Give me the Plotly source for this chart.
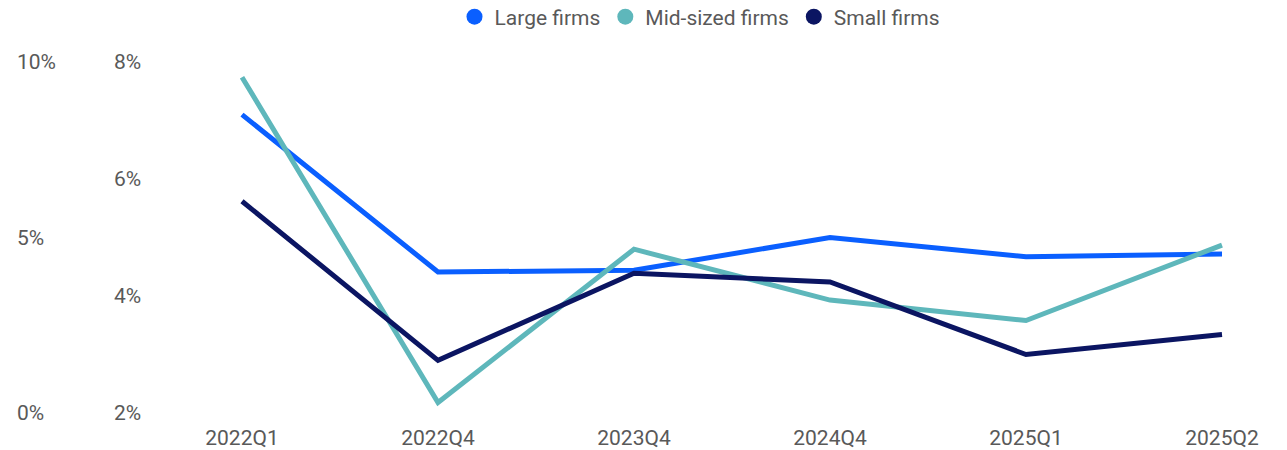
import plotly.graph_objects as go

quarters = ["2022Q1", "2022Q4", "2023Q4", "2024Q4", "2025Q1", "2025Q2"]
large_firms = [7.10, 4.41, 4.44, 5.00, 4.67, 4.72]
mid_firms = [7.74, 2.18, 4.80, 3.93, 3.58, 4.87]
small_firms = [5.62, 2.90, 4.39, 4.24, 3.00, 3.34]

series_names = ["Large firms", "Mid-sized firms", "Small firms"]
series_values = [large_firms, mid_firms, small_firms]
colors = ["#0a5fff", "#5eb7bb", "#0b1562"]

inner_ticks = [2, 4, 6, 8]
outer_ticks = [0, 5, 10]

FONT = "Roboto, Arial, sans-serif"
TXT = "#595959"
FS = 21

fig = go.Figure()
for name, vals, col in zip(series_names, series_values, colors):
    fig.add_trace(go.Scatter(
        x=quarters, y=vals, mode="lines", name=name, showlegend=False,
        line=dict(color=col, width=5), yaxis="y", hoverinfo="x+y+name"))
    fig.add_trace(go.Scatter(
        x=[None], y=[None], mode="markers", name=name, showlegend=True,
        marker=dict(color=col, size=18, symbol="circle"), yaxis="y"))

# dummy trace so the outer axis is drawn
fig.add_trace(go.Scatter(x=[quarters[0]], y=[None], yaxis="y2", showlegend=False,
                         mode="lines", hoverinfo="skip"))

W, H = 1287, 450
TOP_PX, BOT_PX = 62, 413
E = 14                             # extra room so edge labels are not clipped
L, R = 8, 0
T, B = TOP_PX - E, H - (BOT_PX + E)
pw = W - L - R
span = BOT_PX - TOP_PX

# category centres: 242 .. 1222 px
step = (1222 - 242) / 5
x_left = 242 - 0.3 * step
x0 = (x_left - L) / pw
x1 = 1.0
xr_hi = 5 + (L + pw - 1222) / step

in_pad = E * (inner_ticks[-1] - inner_ticks[0]) / span
out_pad = E * (outer_ticks[-1] - outer_ticks[0]) / span

fig.update_layout(
    width=W, height=H,
    margin=dict(l=L, r=R, t=T, b=B, autoexpand=False),
    paper_bgcolor="white", plot_bgcolor="white",
    font=dict(family=FONT, size=FS, color=TXT),
    xaxis=dict(domain=[x0, x1], type="category", range=[-0.3, xr_hi],
               showgrid=False, zeroline=False, showline=False,
               ticks="", ticklabelstandoff=-4,
               tickfont=dict(family=FONT, size=FS, color=TXT)),
    yaxis=dict(range=[inner_ticks[0] - in_pad, inner_ticks[-1] + in_pad],
               tickvals=inner_ticks,
               ticktext=[f"{v}%" for v in inner_ticks],
               anchor="free", position=(110 - L) / pw,
               ticklabelposition="inside", ticks="",
               showgrid=False, zeroline=False, showline=False,
               tickfont=dict(family=FONT, size=FS, color=TXT)),
    yaxis2=dict(range=[outer_ticks[0] - out_pad, outer_ticks[-1] + out_pad],
                tickvals=outer_ticks,
                ticktext=[f"{v}%" for v in outer_ticks],
                overlaying="y", anchor="free", position=(13 - L) / pw,
                side="left",
                ticklabelposition="inside", ticks="",
                showgrid=False, zeroline=False, showline=False,
                tickfont=dict(family=FONT, size=FS, color=TXT)),
    legend=dict(orientation="h", x=(700 - L) / pw, xanchor="center",
                yref="container", y=1 - 17 / H, yanchor="middle",
                font=dict(family=FONT, size=FS, color=TXT),
                itemsizing="trace", bgcolor="rgba(0,0,0,0)"),
    showlegend=True,
)

fig.write_html("out.html", config={"displayModeBar": False},
               post_script="document.body.style.margin='0';")
